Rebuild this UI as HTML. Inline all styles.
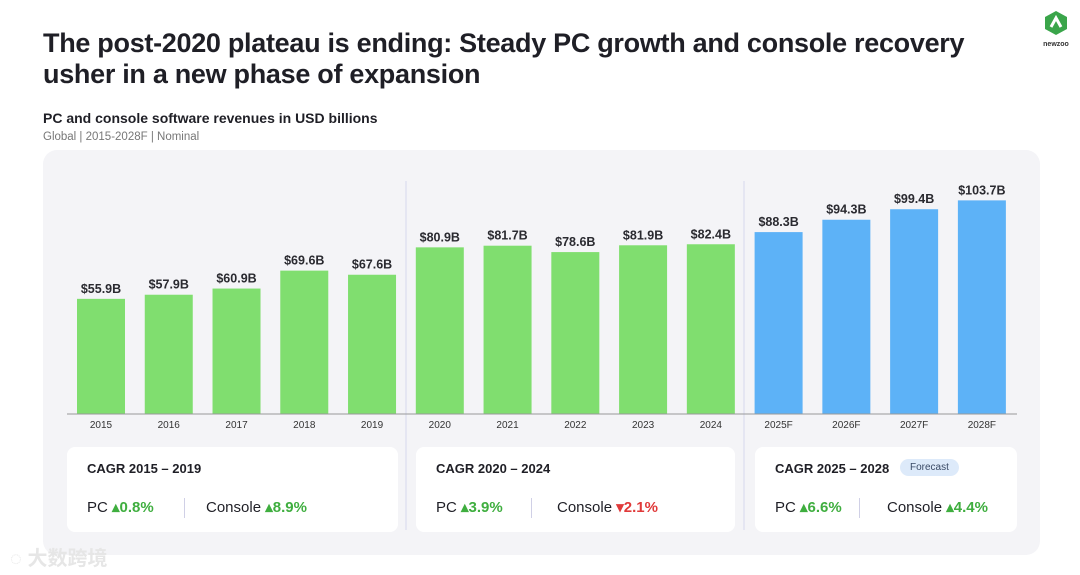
<!DOCTYPE html>
<html><head><meta charset="utf-8"><style>
body{margin:0;width:1080px;height:575px;background:#fff;font-family:"Liberation Sans","Noto Sans CJK SC",sans-serif;position:relative;overflow:hidden;color:#1f1f26}
.abs{position:absolute}
h1{position:absolute;left:43px;top:28px;margin:0;font-size:27px;line-height:31px;font-weight:700;letter-spacing:-0.3px;width:990px}
.card{position:absolute;top:447px;height:85px;background:#fff;border-radius:8px}
.ct{position:absolute;left:20px;top:14px;font-size:13px;font-weight:700}
.row{position:absolute;left:20px;top:51px;font-size:15px}
.up{color:#3fae3f;font-weight:700}.dn{color:#e03a3a;font-weight:700}
.sep{position:absolute;top:51px;width:1px;height:20px;background:#d0d0e6}
</style></head><body>
<h1>The post-2020 plateau is ending: Steady PC growth and console recovery usher in a new phase of expansion</h1>
<div class="abs" style="left:1040px;top:10px;width:32px;text-align:center">
<svg width="26" height="26" viewBox="0 0 26 26"><polygon points="13,1 24,7 24,19 13,25 2,19 2,7" fill="#3aa54a"/><path d="M8 17 L13 8 L18 17" stroke="#fff" stroke-width="3" fill="none"/></svg>
<div style="font-size:7px;font-weight:700;color:#333">newzoo</div></div>
<div class="abs" style="left:43px;top:110px;font-size:14px;font-weight:700">PC and console software revenues in USD billions</div>
<div class="abs" style="left:43px;top:131px;font-size:11.5px;color:#777">Global | 2015-2028F | Nominal</div>
<div class="abs" style="left:43px;top:150px;width:997px;height:405px;background:#f4f4f7;border-radius:14px"></div>
<svg class="abs" style="left:0;top:0" width="1080" height="575" id="chart"></svg>
<div class="card" style="left:67px;width:331px"><div class="ct">CAGR 2015 – 2019</div>
<div class="row">PC <span class="up">▴0.8%</span></div><div class="sep" style="left:117px"></div><div class="row" style="left:139px">Console <span class="up">▴8.9%</span></div></div>
<div class="card" style="left:416px;width:319px"><div class="ct">CAGR 2020 – 2024</div>
<div class="row">PC <span class="up">▴3.9%</span></div><div class="sep" style="left:115px"></div><div class="row" style="left:141px">Console <span class="dn">▾2.1%</span></div></div>
<div class="card" style="left:755px;width:262px"><div class="ct">CAGR 2025 – 2028</div>
<div class="abs" style="left:145px;top:12px;background:#ddeafa;color:#3a4a66;font-size:10px;border-radius:9px;padding:3px 10px">Forecast</div>
<div class="row">PC <span class="up">▴6.6%</span></div><div class="sep" style="left:104px"></div><div class="row" style="left:132px">Console <span class="up">▴4.4%</span></div></div>
<div class="abs" style="left:10px;top:542px;font-size:20px;font-weight:700;color:#e6e6e6">◌ 大数跨境</div>
<script>
const categories=["2015","2016","2017","2018","2019","2020","2021","2022","2023","2024","2025F","2026F","2027F","2028F"];
const values=[55.9,57.9,60.9,69.6,67.6,80.9,81.7,78.6,81.9,82.4,88.3,94.3,99.4,103.7];
const labels=["$55.9B","$57.9B","$60.9B","$69.6B","$67.6B","$80.9B","$81.7B","$78.6B","$81.9B","$82.4B","$88.3B","$94.3B","$99.4B","$103.7B"];
const forecast=[0,0,0,0,0,0,0,0,0,0,1,1,1,1];
const svg=document.getElementById('chart');const NS='http://www.w3.org/2000/svg';
const base=414,scale=2.06;
const x=i=>101+i*67.76;const y=v=>base-v*scale;
function mk(t,a){const e=document.createElementNS(NS,t);for(const k in a)e.setAttribute(k,a[k]);svg.appendChild(e);return e;}
[406,744].forEach(px=>{const l=mk('line',{x1:px,x2:px,y1:181,y2:530,stroke:'#d6d8ee','stroke-width':1});

});
values.forEach((v,i)=>{
const r=mk('rect',{x:x(i)-24,y:y(v),width:48,height:base-y(v),fill:forecast[i]?'#5db2f7':'#80de6f'});


const t=mk('text',{x:x(i),y:y(v)-6,'text-anchor':'middle','font-size':12.5,'font-weight':700,fill:'#2a2a30'});t.textContent=labels[i];


const c=mk('text',{x:x(i),y:base+14,'text-anchor':'middle','font-size':10,fill:'#333'});c.textContent=categories[i];


});
const ax=mk('line',{x1:67,x2:1017,y1:base,y2:base,stroke:'#999','stroke-width':1});


</script>
</body></html>
